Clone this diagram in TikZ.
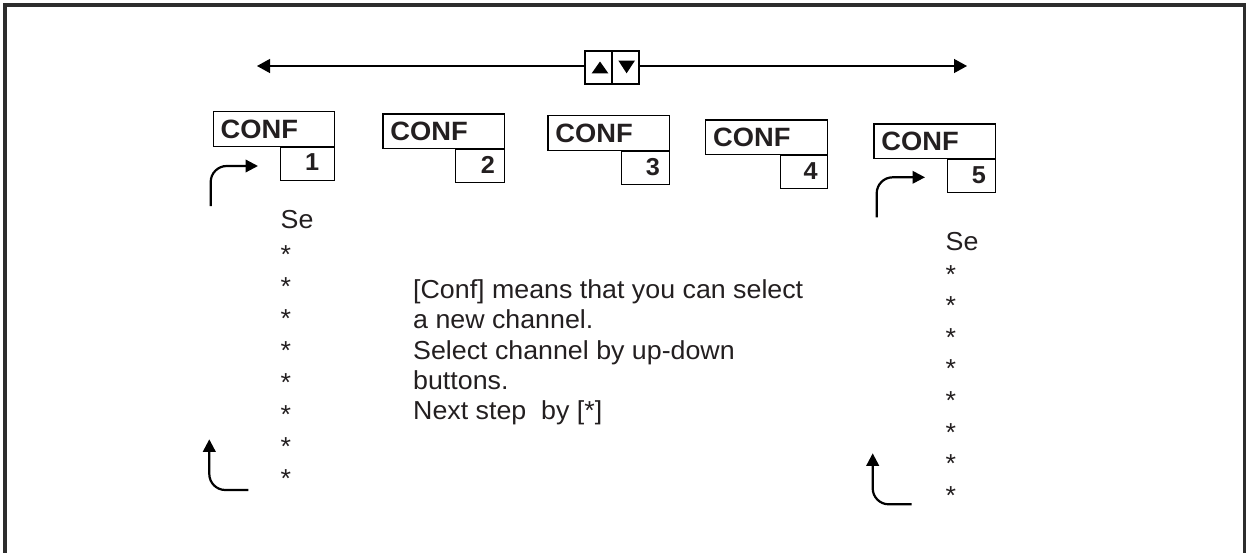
\documentclass[tikz,border=0pt]{standalone}
\usepackage{fontspec}
\setmainfont[FakeStretch=1.03]{Liberation Sans}
\usetikzlibrary{arrows.meta}
\definecolor{framegray}{RGB}{45,45,45}
\definecolor{inkblack}{RGB}{35,31,32}
\tikzset{
  confbox/.style={draw=black, line width=1.3pt, rectangle, anchor=north west,
    minimum width=121.5pt, minimum height=34.5pt, text width=106.5pt,
    inner xsep=7.5pt, inner ysep=0pt, align=left, text=inkblack,
    font=\fontsize{26.5}{26.5}\selectfont\bfseries},
  numbox/.style={draw=black, line width=1.3pt, rectangle, anchor=north east,
    minimum height=33pt, inner xsep=9.5pt, inner ysep=0pt, text depth=2.8pt,
    align=right, text=inkblack,
    font=\fontsize{24.5}{24.5}\selectfont\bfseries},
  btnbox/.style={draw=black, line width=2pt, rectangle, minimum height=33pt, inner sep=0pt},
  bodytext/.style={font=\fontsize{26}{30.4}\selectfont, inner sep=0pt, anchor=base west, text=inkblack},
  topline/.style={line width=1.3pt, -{Triangle[length=13pt,width=14pt]}},
  curvarrow/.style={line width=2.2pt, rounded corners=16pt, -{Triangle[length=12.5pt,width=12.5pt]}},
}
\begin{document}
\begin{tikzpicture}[x=1pt,y=-1pt]
\useasboundingbox (0,0) rectangle (1248,552);
% outer frame
\draw[framegray, line width=3.5pt] (4.8,560) -- (4.8,4.8) -- (1244.5,4.8) -- (1244.5,560);

% up/down buttons and top arrow
\node[btnbox, minimum width=27pt] (bl) at (598.8,67) {};
\node[btnbox, minimum width=27pt] (br) at (625.8,67) {};
\fill (591.7,73.3) -- (608.3,73.3) -- (600,61.5) -- cycle;
\fill (618.3,60.5) -- (635,60.5) -- (626.6,73.3) -- cycle;
\coordinate (lt) at (257,66);
\coordinate (rt) at (967,66);
\draw[topline] (bl.west |- lt) -- (lt);
\draw[topline] (br.east |- rt) -- (rt);

% CONF boxes
\foreach \x/\y/\tw/\n/\pad in {212.5/111/35/1/6, 382.3/113.3/30/2/0, 547.3/115/29/3/0, 705/119.3/28/4/0, 873.3/123.3/29/5/0}{
  \node[confbox] (conf\n) at (\x,\y) {CONF};
  \node[numbox, text width=\tw pt] (num\n) at (conf\n.south east) {\n\hspace*{\pad pt}};
}

% left column
\node[bodytext] (seL) at (280.5,228.3) {Se};
\foreach \k in {0,...,7}{
  \node[bodytext] (astL\k) at (280.5,263+32*\k) {*};
}
% right column
\node[bodytext] (seR) at (945.5,250) {Se};
\foreach \k in {0,...,7}{
  \node[bodytext] (astR\k) at (945.5,283+31.6*\k) {*};
}

% explanation text
\node[bodytext] (t1) at (413,298.3) {[Conf] means that you can select};
\node[bodytext] (t2) at (413,328.7) {a new channel.};
\node[bodytext] (t3) at (413,359.1) {Select channel by up-down};
\node[bodytext] (t4) at (413,389.5) {buttons.};
\node[bodytext] (t5) at (413,419.9) {Next step\ \ by [*]};

% curved arrows
\coordinate (c1s) at (210.7,206);
\coordinate (c1e) at (258,166);
\draw[curvarrow] (c1s) |- (c1e);
\coordinate (c2s) at (876.7,217.3);
\coordinate (c2e) at (925,177.3);
\draw[curvarrow] (c2s) |- (c2e);
\coordinate (c3s) at (248.3,490);
\coordinate (c3e) at (209.3,439.3);
\draw[curvarrow] (c3s) -| (c3e);
\coordinate (c4s) at (911.7,504.3);
\coordinate (c4e) at (872.7,453.3);
\draw[curvarrow] (c4s) -| (c4e);
\end{tikzpicture}
\end{document}
